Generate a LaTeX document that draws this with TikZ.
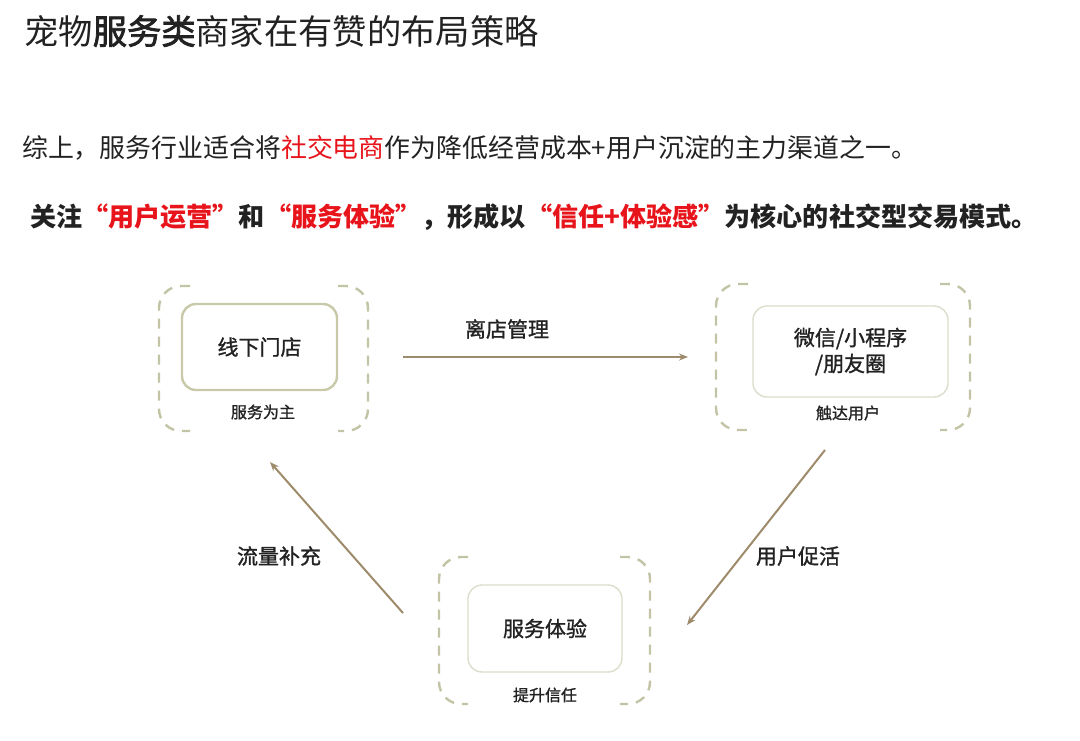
\documentclass[tikz,border=0pt]{standalone}
\usepackage{fontspec}
\setmainfont{Noto Sans CJK SC}
\newfontfamily\cjkmed[FakeBold=1.2]{Noto Sans CJK SC}
\newfontfamily\cjksemi[FakeBold=2.2]{Noto Sans CJK SC}
\usetikzlibrary{arrows.meta}
\definecolor{txt}{HTML}{222222}
\definecolor{redt}{HTML}{E8141B}
\definecolor{dashc}{HTML}{C3C4A6}
\definecolor{boxa}{HTML}{C8C9A8}
\definecolor{boxb}{HTML}{DCDDCA}
\definecolor{arrc}{HTML}{9E8B6B}
\tikzset{
  dashbox/.style={draw=dashc, line width=2.4pt, dash pattern=on 10pt off 8pt, rounded corners=22pt},
  innerbox/.style={draw=boxb, line width=1.4pt, rounded corners=14pt, fill=white, font=\cjkmed\fontsize{21pt}{26pt}\selectfont, text=txt, align=center},
  sublabel/.style={font=\cjkmed\fontsize{16pt}{19pt}\selectfont, text=txt},
  arrlabel/.style={font=\cjkmed\fontsize{21pt}{25pt}\selectfont, text=txt},
  conn/.style={draw=arrc, line width=2pt, -{Stealth[length=9pt,width=7pt]}},
}
\begin{document}
\begin{tikzpicture}[x=1pt,y=-1pt]
\useasboundingbox[fill=white] (0,0) rectangle (1080,740);
% texts
\node[anchor=west, text=txt, font=\fontsize{34.3pt}{38pt}\selectfont, inner sep=0pt] (title) at (24,31) {宠物{\cjksemi 服务类}商家在有赞的布局策略};
\node[anchor=west, text=txt, font=\fontsize{25.9pt}{30pt}\selectfont, inner sep=0pt] (line1) at (22,148) {综上，服务行业适合将{\color{redt}社交电商}作为降低经营成本+用户沉淀的主力渠道之一。};
\node[anchor=west, text=txt, font=\bfseries\fontsize{26.1pt}{30pt}\selectfont, inner sep=0pt] (line2) at (30,217) {关注{\color{redt}“用户运营”}和{\color{redt}“服务体验”}，形成以{\color{redt}“信任+体验感”}为核心的社交型交易模式。};
% box 1
\draw[dashbox] (190,286) -- (159,286) -- (159,431) -- (190,431);
\draw[dashbox] (338,286) -- (368,286) -- (368,431) -- (338,431);
\node[innerbox, draw=boxa, line width=2.4pt, minimum width=155pt, minimum height=86pt] (store) at (259.5,347) {线下门店};
\node[sublabel] (l1) at (263,412) {服务为主};
% box 2
\draw[dashbox] (748,284) -- (716,284) -- (716,430) -- (748,430);
\draw[dashbox] (940,284) -- (970,284) -- (970,430) -- (940,430);
\node[innerbox, minimum width=195pt, minimum height=91pt] (wechat) at (850.5,351.5) {微信/小程序\\/朋友圈};
\node[sublabel] (l2) at (848,413) {触达用户};
% box 3
\draw[dashbox] (468,557) -- (439,557) -- (439,704) -- (468,704);
\draw[dashbox] (620,557) -- (650,557) -- (650,704) -- (620,704);
\node[innerbox, minimum width=154pt, minimum height=87pt] (service) at (545,628.5) {服务体验};
\node[sublabel] (l3) at (545,695) {提升信任};
% connectors
\coordinate (a1s) at (403,357);
\coordinate (a1e) at (688,357);
\coordinate (a2s) at (403,613);
\coordinate (a2e) at (270,462);
\coordinate (a3s) at (825,450);
\coordinate (a3e) at (687,625);
\draw[conn] (a1s) -- (a1e);
\draw[conn] (a2s) -- (a2e);
\draw[conn] (a3s) -- (a3e);
\node[arrlabel] (t1) at (507,329) {离店管理};
\node[arrlabel] (t2) at (279,556) {流量补充};
\node[arrlabel] (t3) at (798,556) {用户促活};
\end{tikzpicture}
\end{document}
